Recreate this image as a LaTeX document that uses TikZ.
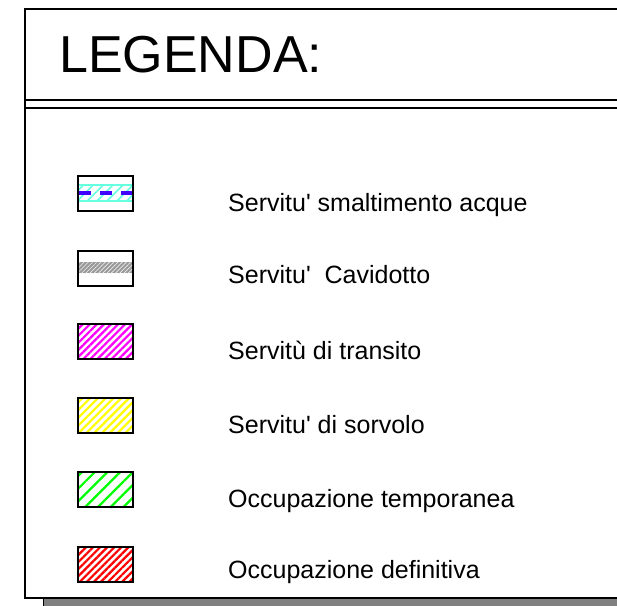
\documentclass[tikz,border=0pt]{standalone}
\usepackage{fontspec}
\newfontfamily\arialfont{Liberation Sans}
\usetikzlibrary{patterns.meta}
\definecolor{cyanband}{HTML}{66FFE0}
\definecolor{bluedash}{HTML}{4000FF}
\definecolor{shadowgray}{HTML}{808080}
\definecolor{cablegray}{HTML}{999999}
\begin{document}
\begin{tikzpicture}[x=1pt,y=-1pt,
  frame/.style={line width=1.5pt, draw=black},
  symbox/.style={draw=black, line width=2pt, minimum width=55pt, minimum height=35pt, inner sep=0pt, fill=white},
  lab/.style={anchor=base west, inner sep=0pt, font=\arialfont\fontsize{25}{30}\selectfont},
  titlefont/.style={anchor=base west, inner sep=0pt, font=\arialfont\fontsize{52}{60}\selectfont}
]
\useasboundingbox (0,0) rectangle (617,605);
% shadow
\fill[shadowgray] (43,599) rectangle (620,608);
\draw[line width=1pt] (43,608) -- (43,599);
% frame
\fill[white] (25,9) rectangle (620,598);
\draw[frame] (620,9) -- (25,9) -- (25,598) -- (620,598);
\draw[frame] (25,100) -- (620,100);
\draw[frame] (25,108) -- (620,108);
% title
\node[titlefont] (title) at (59,72) {LEGENDA:};
% symbol 1
\node[symbox] (s1) at (105.5,193) {};
\fill[pattern={Lines[angle=45,distance=7pt,line width=1.6pt]}, pattern color=cyanband] (79,185) rectangle (132,201);
\draw[cyanband, line width=1.5pt] (79,185) -- (132,185) (79,201) -- (132,201);
\draw[bluedash, line width=4pt, dash pattern=on 12pt off 9pt] (79,193) -- (132,193);
% symbol 2
\node[symbox] (s2) at (105.5,268) {};
\fill[cablegray] (79,262) rectangle (132,273);
\fill[pattern={Lines[angle=45,distance=3pt,line width=0.6pt]}, pattern color=white!85!cablegray] (79,262) rectangle (132,273);
% symbols 3-6
\node[symbox] (s3) at (105.5,341.5) {};
\node[symbox, draw=none, fill=none, pattern={Lines[angle=45,distance=5pt,line width=2.2pt]}, pattern color=magenta] at (s3) {};
\node[symbox, fill=none] at (s3) {};
\node[symbox] (s4) at (105.5,415.5) {};
\node[symbox, draw=none, fill=none, pattern={Lines[angle=45,distance=5.5pt,line width=2.2pt]}, pattern color=yellow] at (s4) {};
\node[symbox, fill=none] at (s4) {};
\node[symbox] (s5) at (105.5,489.5) {};
\node[symbox, draw=none, fill=none, pattern={Lines[angle=45,distance=9pt,line width=2.2pt]}, pattern color=green] at (s5) {};
\node[symbox, fill=none] at (s5) {};
\node[symbox] (s6) at (105.5,564) {};
\node[symbox, draw=none, fill=none, pattern={Lines[angle=45,distance=5pt,line width=2.2pt]}, pattern color=red] at (s6) {};
\node[symbox, fill=none] at (s6) {};
% labels
\node[lab] (l1) at (228,211) {Servitu' smaltimento acque};
\node[lab] (l2) at (228,283) {Servitu'\ \ Cavidotto};
\node[lab] (l3) at (228,359) {Servitù di transito};
\node[lab] (l4) at (228,433) {Servitu' di sorvolo};
\node[lab] (l5) at (228,507) {Occupazione temporanea};
\node[lab] (l6) at (228,578) {Occupazione definitiva};
\end{tikzpicture}
\end{document}
